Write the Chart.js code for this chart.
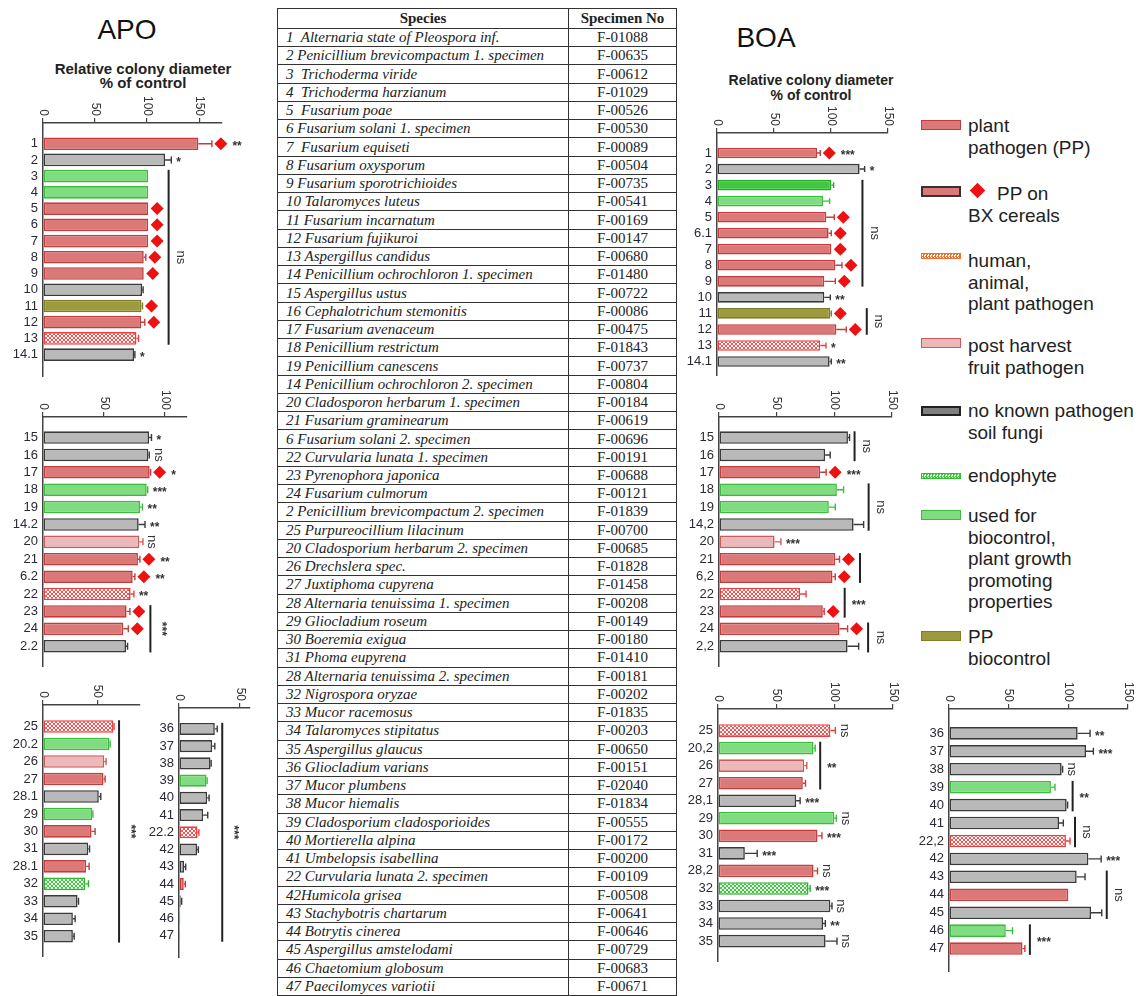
<!DOCTYPE html>
<html><head><meta charset="utf-8">
<script src="https://cdn.jsdelivr.net/npm/chart.js@4.4.1/dist/chart.umd.min.js"></script>
<style>
html,body{margin:0;padding:0;background:#fff;}
#root{position:relative;width:1142px;height:996px;overflow:hidden;font-family:'Liberation Sans',Arial,sans-serif;color:#222;}
canvas{position:absolute;}
.abs{position:absolute;white-space:nowrap;}
#tbl{position:absolute;left:277px;top:8px;width:398px;height:986px;border:1px solid #333;font-family:'Liberation Serif','Times New Roman',serif;font-size:15px;color:#222;}
.row{position:absolute;left:0;width:398px;border-top:1px solid #333;box-sizing:border-box;}
.c1{position:absolute;left:8px;top:0;bottom:0;display:flex;align-items:center;font-style:italic;white-space:pre;}
.c2{position:absolute;left:291px;width:107px;top:0;bottom:0;display:flex;align-items:center;justify-content:center;}
.vdiv{position:absolute;left:290px;top:0;width:1px;height:986px;background:#333;}
.leg{position:absolute;left:968px;font-size:19px;line-height:21.5px;color:#222;white-space:nowrap;}
.sw{position:absolute;left:921px;width:40px;box-sizing:border-box;}
</style>
</head><body>
<div id="root">
  <div class="abs" style="left:0;width:254px;top:16px;text-align:center;font-size:28px;line-height:28px;color:#111;">APO</div>
  <div class="abs" style="left:43px;width:200px;top:62px;text-align:center;font-size:15px;line-height:14px;font-weight:bold;color:#222;">Relative colony diameter<br>% of control</div>
  <div class="abs" style="left:666px;width:200px;top:24px;text-align:center;font-size:28px;line-height:28px;color:#111;">BOA</div>
  <div class="abs" style="left:711px;width:200px;top:73px;text-align:center;font-size:14px;line-height:15px;font-weight:bold;color:#222;">Relative colony diameter<br>% of control</div>
  <div id="tbl"></div>

  <div class="sw" style="top:120px;height:10px;background:#db7878;border:1.5px solid #c43c3c;"></div>
  <div class="leg" style="top:115px;">plant<br>pathogen (PP)</div>
  <div class="sw" style="top:186px;height:11px;background:#db7878;border:2px solid #333;"></div>
  <div class="abs" style="left:972px;top:185px;width:11px;height:11px;background:#ee1111;transform:rotate(45deg);"></div>
  <div class="leg" style="top:183px;"><span style="margin-left:29px">PP on</span><br>BX cereals</div>
  <div class="sw" style="top:253px;height:6px;border:1px solid #f07030;background:repeating-conic-gradient(#f07030 0 25%,#fff 0 50%) 0 0/3px 3px;"></div>
  <div class="leg" style="top:250px;">human,<br>animal,<br>plant pathogen</div>
  <div class="sw" style="top:338px;height:10px;background:#ebb9b9;border:1.5px solid #cf5a5a;"></div>
  <div class="leg" style="top:335px;">post harvest<br>fruit pathogen</div>
  <div class="sw" style="top:406px;height:10px;background:#808080;border:2px solid #222;"></div>
  <div class="leg" style="top:400px;">no known pathogen<br>soil fungi</div>
  <div class="sw" style="top:473px;height:6px;border:1px solid #33bb33;background:repeating-conic-gradient(#33cc33 0 25%,#fff 0 50%) 0 0/3px 3px;"></div>
  <div class="leg" style="top:465px;">endophyte</div>
  <div class="sw" style="top:510px;height:10px;background:#7fdc7f;border:1.5px solid #3cbc3c;"></div>
  <div class="leg" style="top:505px;">used for<br>biocontrol,<br>plant growth<br>promoting<br>properties</div>
  <div class="sw" style="top:631px;height:10px;background:#9c9a3c;border:1.5px solid #807e2a;"></div>
  <div class="leg" style="top:626px;">PP<br>biocontrol</div>
</div>
<script>
// ---------------- DATA ----------------
const apo1Labels = ['1','2','3','4','5','6','7','8','9','10','11','12','13','14.1'];
const apo1Values = [149.3,117.3,101,101,101,101,101,96.8,96.8,95.2,94.6,94.2,89.8,87.5];
const apo1Errors = [13,6,0,0,0,0,0,2,0,1,1,3.6,2,0.8];
const apo1Types = ['pp','nk','bio','bio','pp','pp','pp','pp','pp','nk','ppbio','pp','hap','nk'];
const apo1Diamonds = [1,0,0,0,1,1,1,1,1,0,1,1,0,0];
const apo1Sig = ['**','*','','','','','','','','','','','','*'];
const apo1Groups = [[2,12,'ns']];

const apo2Labels = ['15','16','17','18','19','14.2','20','21','6.2','22','23','24','2.2'];
const apo2Values = [86.9,86.3,87.4,85,79.5,78.4,78.9,77.8,73.5,71.8,68.5,65.8,68];
const apo2Errors = [2,0.8,0.8,0.8,2,5.2,3,1.6,1.8,2.7,2.7,4.1,1.3];
const apo2Types = ['nk','nk','pp','bio','bio','nk','ph','pp','pp','hap','pp','pp','nk'];
const apo2Diamonds = [0,0,1,0,0,0,0,1,1,0,1,1,0];
const apo2Sig = ['*','ns','*','***','**','**','ns','**','**','**','','',''];
const apo2Groups = [[10,12,'***']];

const apo3Labels = ['25','20.2','26','27','28.1','29','30','31','28.1','32','33','34','35'];
const apo3Values = [64.6,61,56.1,55.5,51.2,45.2,44.5,41.5,39.6,38.9,31.7,27.4,27.4];
const apo3Errors = [0.6,0.6,1.8,1.5,1.8,0.6,3.3,1.2,2.7,2.8,0.9,2.1,1.2];
const apo3Types = ['hap','bio','ph','pp','nk','bio','pp','nk','pp','endo','nk','nk','nk'];
const apo3Diamonds = [0,0,0,0,0,0,0,0,0,0,0,0,0];
const apo3Sig = ['','','','','','','','','','','','',''];
const apo3Groups = [[0,12,'***']];

const apo4Labels = ['36','37','38','39','40','41','22.2','42','43','44','45','46','47'];
const apo4Values = [29.4,27.2,25.9,22.6,23.1,19.8,15.2,14.8,4.1,3.9,1.4,1.1,0.8];
const apo4Errors = [2,2.2,0.5,0.5,1.6,3.8,1.1,1.1,1.4,1.3,0.8,0,0];
const apo4Types = ['nk','nk','nk','bio','nk','nk','hap','nk','nk','pp','nk','bio','pp'];
const apo4Diamonds = [0,0,0,0,0,0,0,0,0,0,0,0,0];
const apo4Sig = ['','','','','','','','','','','','',''];
const apo4Groups = [[0,12,'***']];

const boa1Labels = ['1','2','3','4','5','6.1','7','8','9','10','11','12','13','14.1'];
const boa1Values = [87.7,125.1,100.3,93,95.9,97.9,100.3,103.8,94.1,94.1,99.4,104.7,90.6,98.8];
const boa1Errors = [2.9,4.4,2,5.8,7,2.4,0,5.8,9.7,5.3,0.9,8.7,5,1.5];
const boa1Types = ['pp','nk','bio2','bio','pp','pp','pp','pp','pp','nk','ppbio','pp','hap','nk'];
const boa1Diamonds = [1,0,0,0,1,1,1,1,1,0,1,1,0,0];
const boa1Sig = ['***','*','','','','','','','','**','','','*','**'];
const boa1Groups = [[2,8,'ns'],[10,11,'ns']];

const boa2Labels = ['15','16','17','18','19','14,2','20','21','6,2','22','23','24','2,2'];
const boa2Values = [111.8,92,87.7,102.2,95.2,116.7,48.2,100.8,98.4,70.3,90,104.5,111.5];
const boa2Errors = [1.4,4.4,5.2,5.8,5.6,8.7,5.5,3.7,2.4,5.2,1.2,7,9.6];
const boa2Types = ['nk','nk','pp','bio','bio','nk','ph','pp','pp','hap','pp','pp','nk'];
const boa2Diamonds = [0,0,1,0,0,0,0,1,1,0,1,1,0];
const boa2Sig = ['','','***','','','','***','','','','','',''];
const boa2Groups = [[0,1,'ns'],[3,5,'ns'],[7,8,''],[9,10,'***'],[11,12,'ns']];

const boa3Labels = ['25','20,2','26','27','28,1','29','30','31','28,2','32','33','34','35'];
const boa3Values = [96.3,81.9,73.9,72.7,67,99.7,85.3,23,81.9,77.6,96.3,90,92.2];
const boa3Errors = [4.3,1.4,2.2,2.3,3.4,1.7,3.8,10.6,3.4,1.4,1.4,2,9.8];
const boa3Types = ['hap','bio','ph','pp','nk','bio','pp','nk','pp','endo','nk','nk','nk'];
const boa3Diamonds = [0,0,0,0,0,0,0,0,0,0,0,0,0];
const boa3Sig = ['ns','','','','***','ns','***','***','ns','***','ns','**','ns'];
const boa3Groups = [[1,3,'**']];

const boa4Labels = ['36','37','38','39','40','41','22,2','42','43','44','45','46','47'];
const boa4Values = [107.8,114.8,94.4,85.4,98.6,92.2,98,116.8,107,100,119,47.6,61.6];
const boa4Errors = [10.4,6.2,0.8,3.4,0.8,3.6,3.4,10.7,7,0,9,5.6,2];
const boa4Types = ['nk','nk','nk','bio','nk','nk','hap','nk','nk','pp','nk','bio','pp'];
const boa4Diamonds = [0,0,0,0,0,0,0,0,0,0,0,0,0];
const boa4Sig = ['**','***','ns','','','','','***','','','','',''];
const boa4Groups = [[3,4,'**'],[5,6,'ns'],[8,10,'ns'],[11,12,'***']];

const tableSpecies = ['1  Alternaria state of Pleospora inf.','2 Penicillium brevicompactum 1. specimen','3  Trichoderma viride','4  Trichoderma harzianum','5  Fusarium poae','6 Fusarium solani 1. specimen','7  Fusarium equiseti','8 Fusarium oxysporum','9 Fusarium sporotrichioides','10 Talaromyces luteus','11 Fusarium incarnatum','12 Fusarium fujikuroi','13 Aspergillus candidus','14 Penicillium ochrochloron 1. specimen','15 Aspergillus ustus','16 Cephalotrichum stemonitis','17 Fusarium avenaceum','18 Penicillium restrictum','19 Penicillium canescens','14 Penicillium ochrochloron 2. specimen','20 Cladosporon herbarum 1. specimen','21 Fusarium graminearum','6 Fusarium solani 2. specimen','22 Curvularia lunata 1. specimen','23 Pyrenophora japonica','24 Fusarium culmorum','2 Penicillium brevicompactum 2. specimen','25 Purpureocillium lilacinum','20 Cladosporium herbarum 2. specimen','26 Drechslera spec.','27 Juxtiphoma cupyrena','28 Alternaria tenuissima 1. specimen','29 Gliocladium roseum','30 Boeremia exigua','31 Phoma eupyrena','28 Alternaria tenuissima 2. specimen','32 Nigrospora oryzae','33 Mucor racemosus','34 Talaromyces stipitatus','35 Aspergillus glaucus','36 Gliocladium varians','37 Mucor plumbens','38 Mucor hiemalis','39 Cladosporium cladosporioides','40 Mortierella alpina','41 Umbelopsis isabellina','22 Curvularia lunata 2. specimen','42Humicola grisea','43 Stachybotris chartarum','44 Botrytis cinerea','45 Aspergillus amstelodami','46 Chaetomium globosum','47 Paecilomyces variotii'];
const tableSpecimen = ['F-01088','F-00635','F-00612','F-01029','F-00526','F-00530','F-00089','F-00504','F-00735','F-00541','F-00169','F-00147','F-00680','F-01480','F-00722','F-00086','F-00475','F-01843','F-00737','F-00804','F-00184','F-00619','F-00696','F-00191','F-00688','F-00121','F-01839','F-00700','F-00685','F-01828','F-01458','F-00208','F-00149','F-00180','F-01410','F-00181','F-00202','F-01835','F-00203','F-00650','F-00151','F-02040','F-01834','F-00555','F-00172','F-00200','F-00109','F-00508','F-00641','F-00646','F-00729','F-00683','F-00671'];

// ---------------- TABLE ----------------
(function(){
  const t = document.getElementById('tbl');
  const headH = 19, rowH = (986 - 19) / tableSpecies.length;
  let h = '<div class="vdiv"></div>';
  h += `<div class="row" style="top:0;height:${headH}px;border-top:none;font-weight:bold;"><div class="c1" style="font-style:normal;left:0;width:290px;justify-content:center;">Species</div><div class="c2">Specimen No</div></div>`;
  tableSpecies.forEach((s, i) => {
    h += `<div class="row" style="top:${headH + i*rowH}px;height:${rowH}px;"><div class="c1">${s}</div><div class="c2">${tableSpecimen[i]}</div></div>`;
  });
  t.innerHTML = h;
})();

// ---------------- STYLES ----------------
function checker(c) {
  const cv = document.createElement('canvas'); cv.width = 4; cv.height = 4;
  const x = cv.getContext('2d');
  x.fillStyle = '#ffffff'; x.fillRect(0,0,4,4);
  x.fillStyle = c; x.fillRect(0,0,2,2); x.fillRect(2,2,2,2);
  return x.createPattern(cv, 'repeat');
}
const STYLE = {
  pp:   {fill:'#db7878', border:'#c43c3c'},
  ph:   {fill:'#ebb9b9', border:'#cf5a5a'},
  nk:   {fill:'#b9b9b9', border:'#3a3a3a'},
  bio:  {fill:'#80dc80', border:'#3cbc3c'},
  bio2: {fill:'#3ec83e', border:'#2aa62a'},
  ppbio:{fill:'#9c9a3c', border:'#7e7c28'},
  hap:  {fill:checker('#f25454'), border:'#ea4040'},
  endo: {fill:checker('#36cc36'), border:'#30b030'}
};

// ---------------- PLUGIN ----------------
function makePlugin(D, L) {
  return {
    id: 'annot_' + L.id,
    afterDatasetsDraw(chart) {
      const ctx = chart.ctx, xs = chart.scales.x;
      const meta = chart.getDatasetMeta(0);
      const ext = [];
      ctx.save();
      meta.data.forEach((bar, i) => {
        const v = D.values[i], e = D.errors[i];
        const col = STYLE[D.types[i]].border;
        const y = bar.y, h = bar.height;
        let xEnd = bar.x;
        if (e > 0) {
          const xe = xs.getPixelForValue(v + e);
          ctx.strokeStyle = col; ctx.lineWidth = 1.4;
          ctx.beginPath(); ctx.moveTo(bar.x, y); ctx.lineTo(xe, y);
          ctx.moveTo(xe, y - h*0.28); ctx.lineTo(xe, y + h*0.28); ctx.stroke();
          xEnd = Math.max(xEnd, xe);
        }
        let cur = xEnd;
        if (D.diamonds[i]) {
          const cx = xEnd + 9, r = 6.5;
          ctx.fillStyle = '#ee1111';
          ctx.beginPath(); ctx.moveTo(cx, y - r); ctx.lineTo(cx + r, y); ctx.lineTo(cx, y + r); ctx.lineTo(cx - r, y); ctx.closePath(); ctx.fill();
          cur = cx + r;
        }
        ext[i] = cur;
        const s = D.sig[i];
        ctx.fillStyle = '#333';
        if (s === 'ns') {
          ctx.save(); ctx.translate(cur + 9, y); ctx.rotate(Math.PI/2);
          ctx.font = '13px "Liberation Sans", Arial'; ctx.textAlign = 'center'; ctx.textBaseline = 'middle';
          ctx.fillText(s, 0, 0); ctx.restore();
        } else if (s) {
          ctx.font = 'bold 12px "Liberation Sans", Arial'; ctx.textAlign = 'left'; ctx.textBaseline = 'middle';
          ctx.fillText(s, cur + 5, y + 3);
        }
      });
      D.groups.forEach(([a, b, t]) => {
        let mx = 0; for (let k = a; k <= b; k++) mx = Math.max(mx, ext[k]);
        const lx = mx + 5;
        const ba = meta.data[a], bb = meta.data[b];
        const top = ba.y - ba.height/2, bot = bb.y + bb.height/2;
        ctx.strokeStyle = '#222'; ctx.lineWidth = 2;
        ctx.beginPath(); ctx.moveTo(lx, top); ctx.lineTo(lx, bot); ctx.stroke();
        if (!t) return;
        const my = (top + bot) / 2;
        ctx.fillStyle = '#333';
        if (t === 'ns' || L.rotStars) {
          ctx.save(); ctx.translate(lx + (t === 'ns' ? 12 : 11), my); ctx.rotate(Math.PI/2);
          ctx.font = (t === 'ns' ? '13px' : 'bold 12px') + ' "Liberation Sans", Arial';
          ctx.textAlign = 'center'; ctx.textBaseline = 'middle';
          ctx.fillText(t, 0, 0); ctx.restore();
        } else {
          ctx.font = 'bold 12px "Liberation Sans", Arial'; ctx.textAlign = 'left'; ctx.textBaseline = 'middle';
          ctx.fillText(t, lx + 7, my + 3);
        }
      });
      ctx.restore();
    },
    afterDraw(chart) {
      const ctx = chart.ctx, xs = chart.scales.x;
      ctx.save();
      ctx.font = '12px "Liberation Sans", Arial'; ctx.fillStyle = '#333';
      xs.ticks.forEach((tk, i) => {
        const x = xs.getPixelForTick(i);
        ctx.save(); ctx.translate(x, xs.bottom - 7); ctx.rotate(Math.PI/2);
        ctx.textAlign = 'right'; ctx.textBaseline = 'middle';
        ctx.fillText(String(tk.value), 0, 0); ctx.restore();
      });
      ctx.restore();
    }
  };
}

// ---------------- PANELS ----------------
function buildPanel(L, D) {
  const Yw = 40, Xh = 40, padR = L.padR, padB = 4;
  const cw = L.right - L.left + Yw + padR;
  const ch = L.bottom - L.top + Xh + padB;
  const cv = document.createElement('canvas');
  cv.width = cw; cv.height = ch;
  cv.style.left = (L.left - Yw) + 'px'; cv.style.top = (L.top - Xh) + 'px';
  cv.style.width = cw + 'px'; cv.style.height = ch + 'px';
  document.getElementById('root').appendChild(cv);
  const yMin = -(L.first - L.top) / L.step;
  const yMax = (L.bottom - L.first) / L.step;
  new Chart(cv, {
    type: 'bar',
    data: { datasets: [{
      data: D.values.map((v, i) => ({x: v, y: i})),
      backgroundColor: D.types.map(t => STYLE[t].fill),
      borderColor: D.types.map(t => STYLE[t].border),
      borderWidth: 1.6, borderSkipped: false,
      barPercentage: L.barPct, categoryPercentage: 1
    }]},
    options: {
      indexAxis: 'y', responsive: false, animation: false, events: [],
      devicePixelRatio: 1,
      layout: { padding: { left: 0, top: 0, right: padR, bottom: padB } },
      plugins: { legend: {display: false}, tooltip: {enabled: false} },
      scales: {
        x: { type: 'linear', position: 'top', min: 0, max: L.xmax,
             ticks: { display: false, stepSize: 50, includeBounds: false },
             grid: { display: true, drawOnChartArea: false, drawTicks: true, tickLength: 5, color: '#444', lineWidth: 1.2 },
             border: { display: true, color: '#444', width: 1.5 },
             afterFit: s => { s.height = Xh; } },
        y: { type: 'linear', reverse: true, min: yMin, max: yMax,
             afterBuildTicks: s => { s.ticks = D.labels.map((_, i) => ({value: i})); },
             ticks: { autoSkip: false, padding: 5, color: '#2a2a35', font: {family: '"Liberation Sans", Arial', size: 13},
                      callback: v => D.labels[v] },
             grid: { display: false, drawTicks: false },
             border: { display: true, color: '#444', width: 1.5 },
             afterFit: s => { s.width = Yw; } }
      }
    },
    plugins: [makePlugin(D, L)]
  });
}

const panels = [
  [{id:'apo1', left:43, right:222, top:123, bottom:385, first:136, step:18.08, xmax:172, barPct:0.78, padR:40, rotStars:true},
   {labels:apo1Labels, values:apo1Values, errors:apo1Errors, types:apo1Types, diamonds:apo1Diamonds, sig:apo1Sig, groups:apo1Groups}],
  [{id:'apo2', left:43, right:187, top:417, bottom:675, first:429.3, step:19.5, xmax:118, barPct:0.72, padR:30, rotStars:true},
   {labels:apo2Labels, values:apo2Values, errors:apo2Errors, types:apo2Types, diamonds:apo2Diamonds, sig:apo2Sig, groups:apo2Groups}],
  [{id:'apo3', left:43, right:140, top:705, bottom:965, first:718.3, step:19.6, xmax:89, barPct:0.72, padR:2, rotStars:true},
   {labels:apo3Labels, values:apo3Values, errors:apo3Errors, types:apo3Types, diamonds:apo3Diamonds, sig:apo3Sig, groups:apo3Groups}],
  [{id:'apo4', left:179, right:250, top:708, bottom:966, first:720.7, step:19.33, xmax:58.3, barPct:0.7, padR:15, rotStars:true},
   {labels:apo4Labels, values:apo4Values, errors:apo4Errors, types:apo4Types, diamonds:apo4Diamonds, sig:apo4Sig, groups:apo4Groups}],
  [{id:'boa1', left:717, right:888, top:133, bottom:384, first:145.7, step:17.9, xmax:150, barPct:0.66, padR:8, rotStars:false},
   {labels:boa1Labels, values:boa1Values, errors:boa1Errors, types:boa1Types, diamonds:boa1Diamonds, sig:boa1Sig, groups:boa1Groups}],
  [{id:'boa2', left:719, right:892, top:417, bottom:675, first:429.3, step:19.5, xmax:150, barPct:0.72, padR:8, rotStars:false},
   {labels:boa2Labels, values:boa2Values, errors:boa2Errors, types:boa2Types, diamonds:boa2Diamonds, sig:boa2Sig, groups:boa2Groups}],
  [{id:'boa3', left:718, right:893, top:709, bottom:970, first:722.3, step:19.67, xmax:150, barPct:0.72, padR:8, rotStars:false},
   {labels:boa3Labels, values:boa3Values, errors:boa3Errors, types:boa3Types, diamonds:boa3Diamonds, sig:boa3Sig, groups:boa3Groups}],
  [{id:'boa4', left:949, right:1128, top:709, bottom:980, first:725, step:20.08, xmax:150, barPct:0.7, padR:12, rotStars:false},
   {labels:boa4Labels, values:boa4Values, errors:boa4Errors, types:boa4Types, diamonds:boa4Diamonds, sig:boa4Sig, groups:boa4Groups}]
];
panels.forEach(([L, D]) => buildPanel(L, D));
</script>
</body></html>
